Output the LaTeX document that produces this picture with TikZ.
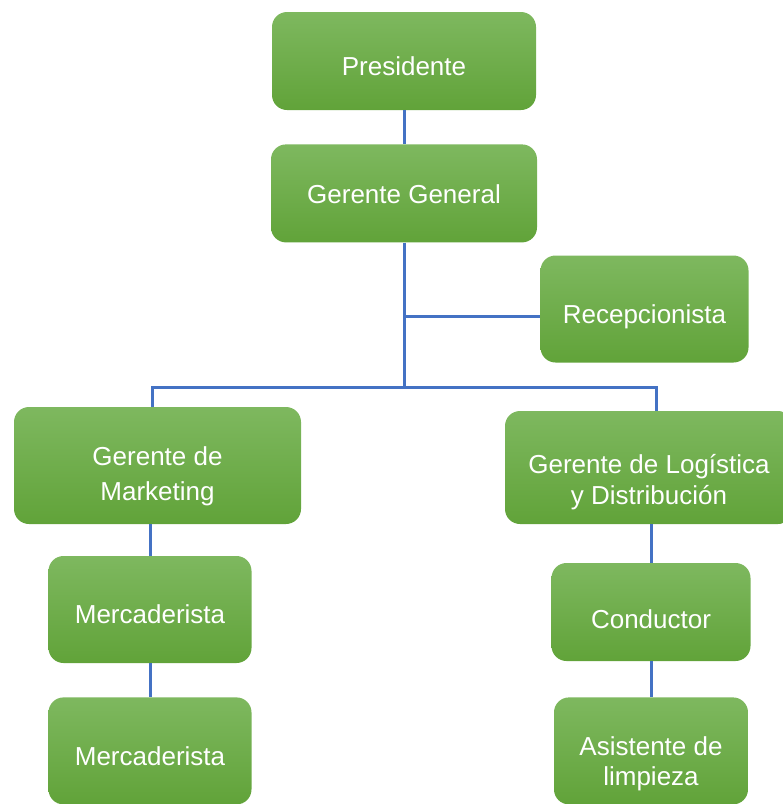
\documentclass[tikz,border=0pt]{standalone}
\usepackage{fontspec}
\setmainfont{Liberation Sans}
\usetikzlibrary{positioning}
\definecolor{boxtop}{HTML}{7EB85F}
\definecolor{boxbot}{HTML}{61A339}
\definecolor{linkblue}{HTML}{4472C4}

\begin{document}
\begin{tikzpicture}[x=1pt, y=-1pt,
    every node/.style={rounded corners=15pt, top color=boxtop, bottom color=boxbot, text=white, align=center, inner sep=0pt, font=\fontsize{26}{32}\selectfont},
    txtpos/.style 2 args={text height=#1, text depth=#2},
    lead/.style={font=\fontsize{26}{#1}\selectfont},
    link/.style={draw=linkblue, line width=3pt}]
    \useasboundingbox (0,0) rectangle (783,804);
    \node (pres)[minimum width=264pt, minimum height=98pt, txtpos={29.6pt}{0pt}] at (404,61) {Presidente};
    \node (gg)[below=34pt of pres, minimum width=266pt, minimum height=98pt, txtpos={20.6pt}{0pt}] {Gerente General};
    \node (recep)[minimum width=208pt, minimum height=107pt, txtpos={28.6pt}{0pt}] at (644.5,309) {Recepcionista};
    \node (mkt)[minimum width=287pt, minimum height=117pt, lead=34.5pt, txtpos={69.6pt}{0pt}] at (157.5,465.5) {Gerente de\\Marketing};
    \node (log)[minimum width=288pt, minimum height=113pt, lead=31.5pt, txtpos={74.6pt}{0pt}] at (649,467.5) {Gerente de Logística\\y Distribución};
    \node (merc1)[minimum width=203pt, minimum height=107pt, txtpos={28.6pt}{0pt}] at (150,609.5) {Mercaderista};
    \node (merc2)[below=34pt of merc1, minimum width=203pt, minimum height=107pt, txtpos={29.6pt}{0pt}] {Mercaderista};
    \node (cond)[minimum width=199pt, minimum height=98pt, txtpos={33.6pt}{0pt}] at (651,612) {Conductor};
    \node (asis)[below=36pt of cond, minimum width=194pt, minimum height=107pt, lead=30pt, txtpos={69.6pt}{0pt}] {Asistente de\\limpieza};
    \coordinate (tap) at (404,316);
    \coordinate (busL) at (152,387);
    \coordinate (busR) at (656,387);
    \draw[link] (pres) -- (gg);
    \draw[link] (gg) -- (gg |- busL);
    \draw[link] (tap) -- (tap -| recep.west);
    \draw[link] (busL |- mkt.north) -- (busL) -- (busR) -- (busR |- log.north);
    \draw[link] (merc1 |- mkt.south) -- (merc1);
    \draw[link] (merc1) -- (merc2);
    \draw[link] (cond |- log.south) -- (cond);
    \draw[link] (cond) -- (asis);
\end{tikzpicture}
\end{document}
